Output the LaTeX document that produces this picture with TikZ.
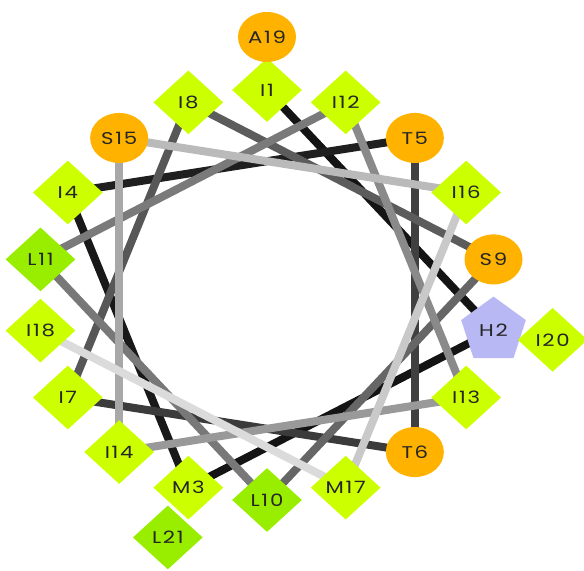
\documentclass[tikz,border=0pt]{standalone}
\usepackage{fontspec}
\setmainfont{Poppins}[FakeStretch=1.25, LetterSpace=10]
\usetikzlibrary{shapes.geometric, backgrounds}

\definecolor{limegreen}{HTML}{CCFF00}
\definecolor{leafgreen}{HTML}{99EE00}
\definecolor{ambercol}{HTML}{FFB300}
\definecolor{lavender}{HTML}{B8B8F4}

\tikzset{
    res/.style={inner sep=0pt, font=\fontsize{8.5}{9}\selectfont, text=black!85},
    hydro/.style={res, diamond, fill=limegreen, minimum width=35pt, minimum height=32pt},
    leuc/.style={hydro, fill=leafgreen},
    polar/.style={res, ellipse, fill=ambercol, minimum width=29pt, minimum height=25pt},
    basic/.style={res, regular polygon, regular polygon sides=5, fill=lavender, minimum size=34pt},
    bond/.style={line width=4pt},
}

\begin{document}
\begin{tikzpicture}[x=0.5pt, y=-0.5pt]
    \useasboundingbox (0,0) rectangle (584,571);

    % Inner turn of the wheel
    \foreach \n/\aa/\kind in {1/I/hydro, 2/H/basic, 3/M/hydro, 4/I/hydro, 5/T/polar, 6/T/polar,
        7/I/hydro, 8/I/hydro, 9/S/polar, 10/L/leuc, 11/L/leuc, 12/I/hydro, 13/I/hydro,
        14/I/hydro, 15/S/polar, 16/I/hydro, 17/M/hydro, 18/I/hydro}
        \node[\kind] (r\n) at ({267+230*cos(90-100*(\n-1))}, {295-205*sin(90-100*(\n-1))}) {\aa\n};

    % Outer turn
    \foreach \n/\aa/\kind in {19/A/polar, 20/I/hydro, 21/L/leuc}
        \node[\kind] (r\n) at ({267+290*cos(90-100*(\n-1))}, {295-258*sin(90-100*(\n-1))}) {\aa\n};

    % Backbone links, darkest first
    \begin{scope}[on background layer]
        \foreach \a/\b/\shade in {1/2/92, 2/3/92, 3/4/90, 4/5/88, 5/6/75, 6/7/77, 7/8/66,
            8/9/64, 9/10/60, 10/11/53, 11/12/52, 12/13/46, 13/14/40, 14/15/34,
            15/16/27, 16/17/21, 17/18/14}
            \draw[bond, black!\shade] (r\a.center) -- (r\b.center);
    \end{scope}

\end{tikzpicture}
\end{document}
